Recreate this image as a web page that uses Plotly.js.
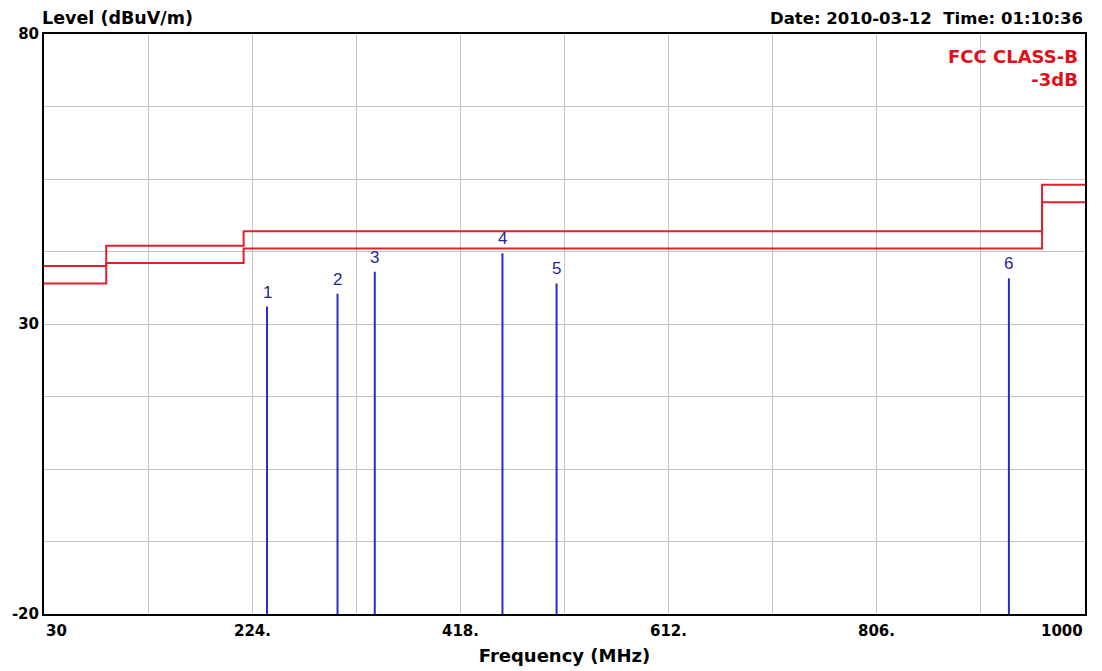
<!DOCTYPE html>
<html>
<head>
<meta charset="utf-8">
<script src="https://cdn.plot.ly/plotly-3.0.1.min.js"></script>
<style>html,body{margin:0;padding:0;background:#fff;}#chart{width:1102px;height:671px;}</style>
</head>
<body>
<div id="chart"></div>
<script>
// Limit lines (FCC Class B and -3dB margin), step breakpoints in MHz
const limitFreq = [30, 88, 216, 960, 1000];
const limitLevel = [40, 43.5, 46, 54, 54];
const marginLevel = [37, 40.5, 43, 51, 51];

// Peak markers
const markerIds = ['1', '2', '3', '4', '5', '6'];
const markerFreq = [237.8, 303.5, 338.2, 457.2, 507.6, 929.1];
const markerLevel = [33.0, 35.2, 39.0, 42.2, 37.0, 37.9];

// Axis ticks
const xTickVals = [30, 127, 224, 321, 418, 515, 612, 709, 806, 903, 1000];
const xTickText = ['30', '', '224.', '', '418.', '', '612.', '', '806.', '', '1000'];
const yTickVals = [-20, -7.5, 5, 17.5, 30, 42.5, 55, 67.5, 80];
const yTickText = ['-20', '', '', '', '30', '', '', '', '80'];

const BOLD = '"DejaVu Sans", Verdana, sans-serif';
const FONT = 'Arial, "Liberation Sans", sans-serif';

const stemX = [], stemY = [];
markerFreq.forEach((f, i) => { stemX.push(f, f, null); stemY.push(-20, markerLevel[i], null); });

const traces = [
  {x: limitFreq, y: limitLevel, mode: 'lines', line: {shape: 'hv', color: '#e0202a', width: 2}, hoverinfo: 'skip'},
  {x: limitFreq, y: marginLevel, mode: 'lines', line: {shape: 'hv', color: '#e0202a', width: 2}, hoverinfo: 'skip'},
  {x: stemX, y: stemY, mode: 'lines', line: {color: '#2a2ad0', width: 2}, hoverinfo: 'skip'}
];

const annotations = [];
markerIds.forEach((id, i) => annotations.push({
  x: markerFreq[i], y: markerLevel[i], xref: 'x', yref: 'y', text: id, showarrow: false,
  yanchor: 'bottom', yshift: 3, font: {family: FONT, size: 17, color: '#25259a'}
}));
xTickVals.forEach((v, i) => {
  if (!xTickText[i]) return;
  const anchor = i === 0 ? 'left' : (i === xTickVals.length - 1 ? 'right' : 'center');
  annotations.push({x: v, y: 0, xref: 'x', yref: 'paper', text: xTickText[i], showarrow: false,
    xanchor: anchor, yanchor: 'top', yshift: -6, font: {family: BOLD, size: 15, color: '#000', weight: 'bold'}});
});
annotations.push(
  {x: 0, y: 1, xref: 'paper', yref: 'paper', xanchor: 'left', yanchor: 'bottom', yshift: 4, xshift: -4,
   text: 'Level (dBuV/m)', showarrow: false, font: {family: BOLD, size: 17.5, color: '#000', weight: 'bold'}},
  {x: 1, y: 1, xref: 'paper', yref: 'paper', xanchor: 'right', yanchor: 'bottom', yshift: 4,
   text: 'Date: 2010-03-12  Time: 01:10:36', showarrow: false, font: {family: BOLD, size: 16.5, color: '#000', weight: 'bold'}},
  {x: 1, y: 1, xref: 'paper', yref: 'paper', xanchor: 'right', yanchor: 'top', xshift: -5, yshift: -10, align: 'right',
   text: 'FCC CLASS-B<br>-3dB', showarrow: false, font: {family: BOLD, size: 18, color: '#e0101a', weight: 'bold'}}
);

const layout = {
  width: 1102, height: 671,
  margin: {l: 44, r: 17, t: 34, b: 57},
  paper_bgcolor: '#fff', plot_bgcolor: '#fff',
  showlegend: false,
  xaxis: {
    range: [30, 1000], tickmode: 'array', tickvals: xTickVals, ticktext: xTickText, showticklabels: false,
    showgrid: true, gridcolor: '#c4c4c4', gridwidth: 1, zeroline: false,
    showline: true, linecolor: '#000', linewidth: 2, mirror: true, ticks: '',
    title: {text: 'Frequency (MHz)', standoff: 34, font: {family: BOLD, size: 18, color: '#000', weight: 'bold'}},
    automargin: false
  },
  yaxis: {
    range: [-20, 80], tickmode: 'array', tickvals: yTickVals, ticktext: yTickText,
    showgrid: true, gridcolor: '#c4c4c4', gridwidth: 1, zeroline: false,
    showline: true, linecolor: '#000', linewidth: 2, mirror: true, ticks: '',
    tickfont: {family: BOLD, size: 15, color: '#000', weight: 'bold'}, automargin: false
  },
  annotations: annotations
};

Plotly.newPlot('chart', traces, layout, {displayModeBar: false, staticPlot: true});
</script>
</body>
</html>
